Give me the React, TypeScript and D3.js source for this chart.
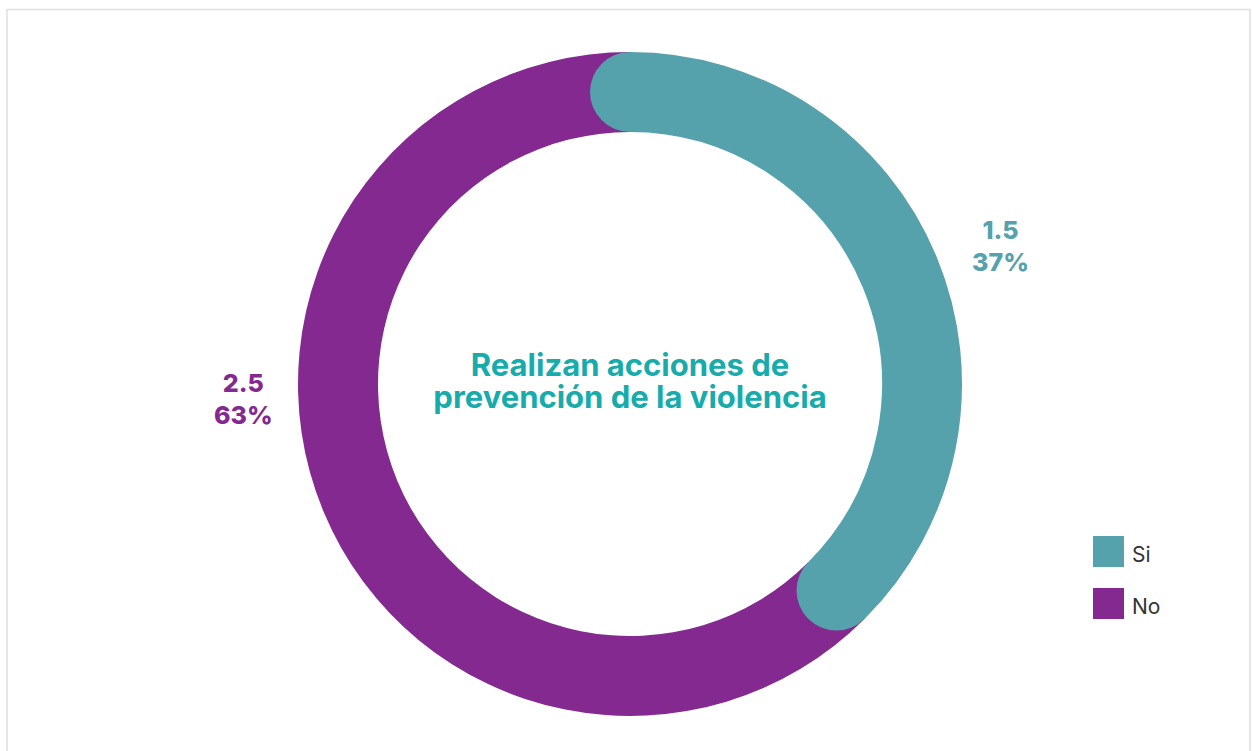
import React from "react";
import * as d3 from "d3";

const categories = ["Si", "No"];
const values = [1.5, 2.5];
const percentLabels = ["37%", "63%"];
const colors = ["#55A1AC", "#84298F"];
const titleLines = ["Realizan acciones de", "prevención de la violencia"];

const W = 1252;
const H = 751;
const cx = 630;
const cy = 384;
const outerR = 332;
const innerR = 252;
// label placement (angle in degrees clockwise from top, radius)
const labelPlacement = [
  { angle: 69.7, r: 395 },
  { angle: 267.6, r: 387 },
];

export default function App() {
  const pie = d3.pie<number>().sort(null).value((d) => d);
  const arcs = pie(values);
  const midR = (outerR + innerR) / 2;
  const band = outerR - innerR;
  const fullArc = d3.arc<any>().innerRadius(innerR).outerRadius(outerR);

  const lineArc = (a: any) => {
    const p = d3.path();
    p.arc(0, 0, midR, a.startAngle - Math.PI / 2, a.endAngle - Math.PI / 2, false);
    return p.toString();
  };

  return (
    <svg
      width={W}
      height={H}
      style={{ position: "absolute", left: 0, top: 0, background: "#fff" }}
      fontFamily="Inter, 'Noto Sans', sans-serif"
    >
      <rect x={7} y={9.5} width={1243} height={760} fill="none" stroke="#dedede" strokeWidth={1.5} />
      <g transform={`translate(${cx},${cy})`}>
        <path d={fullArc(arcs[1]) || ""} fill={colors[1]} />
        <path
          d={lineArc(arcs[0])}
          fill="none"
          stroke={colors[0]}
          strokeWidth={band}
          strokeLinecap="round"
        />
        {arcs.map((a, i) => {
          const ang = (labelPlacement[i].angle * Math.PI) / 180;
          const x = Math.sin(ang) * labelPlacement[i].r;
          const y = -Math.cos(ang) * labelPlacement[i].r;
          return (
            <text
              key={i}
              x={x}
              y={y}
              textAnchor="middle"
              fill={colors[i]}
              fontWeight={800}
              fontSize={25}
            >
              <tspan x={x} dy={-8}>{String(values[i])}</tspan>
              <tspan x={x} dy={32}>{percentLabels[i]}</tspan>
            </text>
          );
        })}
        <text textAnchor="middle" fill="#17ABAB" fontWeight={700} fontSize={31}>
          {titleLines.map((l, i) => (
            <tspan key={i} x={0} y={-8 + i * 32}>
              {l}
            </tspan>
          ))}
        </text>
      </g>
      <g transform="translate(1093,536)">
        {categories.map((c, i) => (
          <g key={c} transform={`translate(0,${i * 52})`}>
            <rect width={31} height={31} fill={colors[i]} />
            <text x={39} y={26} fontSize={21} fill="#333">
              {c}
            </text>
          </g>
        ))}
      </g>
    </svg>
  );
}
